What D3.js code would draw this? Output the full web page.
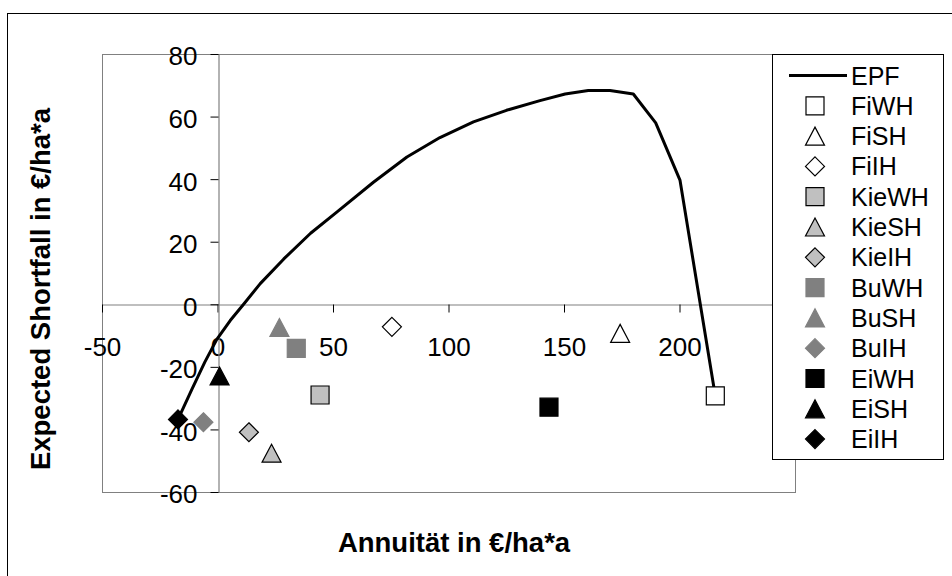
<!DOCTYPE html>
<html>
<head>
<meta charset="utf-8">
<script src="https://cdn.jsdelivr.net/npm/d3@7"></script>
<style>
  body { margin: 0; background: #fff; }
  text { font-family: "Liberation Sans", Arial, sans-serif; fill: #000; }
</style>
</head>
<body>
<svg id="chart" width="952" height="576"></svg>
<script>
// Axis ticks
const xTicks = [-50, 0, 50, 100, 150, 200];
const yTicks = [-60, -40, -20, 0, 20, 40, 60, 80];

// Efficient frontier (EPF)
const epfX = [-17.1, -11, -5.5, -0.3, 5.5, 11.3, 18.5, 28.7, 40.3, 51.9, 67.5, 82, 96.3, 110.8, 125.1, 139.6, 150.5, 160.5, 169.9, 180, 189.7, 200.2, 215.5];
const epfY = [-36.8, -27, -18.5, -11.2, -5.2, 0, 6.6, 14.5, 22.7, 29.6, 39, 47.1, 53.3, 58.3, 62, 65.1, 67.2, 68.3, 68.3, 67.2, 58, 39.7, -29.3];

// Single strategies
const pointNames = ["FiWH", "FiSH", "FiIH", "KieWH", "KieSH", "KieIH", "BuWH", "BuSH", "BuIH", "EiWH", "EiSH", "EiIH"];
const pointX = [215.5, 174.3, 75.5, 44.4, 23.4, 13.6, 34.1, 26.8, -6.1, 143.5, 0.9, -17.1];
const pointY = [-29.3, -9.3, -7.2, -29.0, -47.6, -40.9, -14.1, -7.4, -37.7, -32.9, -22.9, -36.8];

// Marker appearance per species (Fi, Kie, Bu, Ei) and harvest type (WH, SH, IH)
const speciesStyle = {
  Fi:  { fill: "#ffffff", stroke: "#000000" },
  Kie: { fill: "#c0c0c0", stroke: "#000000" },
  Bu:  { fill: "#808080", stroke: "#808080" },
  Ei:  { fill: "#000000", stroke: "#000000" }
};
function styleOf(name) {
  const sp = name.match(/^(Fi|Kie|Bu|Ei)/)[1];
  const shape = name.endsWith("WH") ? "square" : name.endsWith("SH") ? "triangle" : "diamond";
  return { ...speciesStyle[sp], shape };
}
function markerPath(shape) {
  const p = d3.path();
  if (shape === "square") {
    p.rect(-9, -9, 18, 18);
  } else if (shape === "triangle") {
    p.moveTo(0, -9); p.lineTo(9.5, 9); p.lineTo(-9.5, 9); p.closePath();
  } else {
    p.moveTo(0, -9.5); p.lineTo(9.5, 0); p.lineTo(0, 9.5); p.lineTo(-9.5, 0); p.closePath();
  }
  return p.toString();
}

const svg = d3.select("#chart");

// Chart frame
svg.append("rect")
  .attr("x", 7.5).attr("y", 13.5).attr("width", 980).attr("height", 600)
  .attr("fill", "#fff").attr("stroke", "#000").attr("stroke-width", 1);

const plot = { left: 102, right: 795, top: 54, bottom: 492 };
const x = d3.scaleLinear().domain([-50, 250]).range([plot.left, plot.right]);
const y = d3.scaleLinear().domain([-60, 80]).range([plot.bottom, plot.top]);

// Plot area border
svg.append("rect")
  .attr("x", plot.left + 0.5).attr("y", plot.top + 0.5)
  .attr("width", plot.right - plot.left).attr("height", plot.bottom - plot.top)
  .attr("fill", "none").attr("stroke", "#808080").attr("stroke-width", 1);

// Axes crossing at the origin
const plain = d => String(d);
const xAxis = d3.axisBottom(x).tickValues(xTicks).tickFormat(plain)
  .tickSizeInner(8).tickSizeOuter(0).tickPadding(25);
const yAxis = d3.axisLeft(y).tickValues(yTicks).tickFormat(plain)
  .tickSizeInner(8).tickSizeOuter(0).tickPadding(13);

const gx = svg.append("g").attr("transform", `translate(0,${Math.round(y(0)) + 0.5})`).call(xAxis);
const gy = svg.append("g").attr("transform", `translate(${Math.round(x(0)) + 0.5},0)`).call(yAxis);

[gx, gy].forEach(g => {
  g.select(".domain").attr("stroke", "#808080").attr("stroke-width", 1.2);
  g.selectAll(".tick line").attr("stroke", "#000").attr("stroke-width", 1);
  g.selectAll(".tick text").attr("font-size", 26).attr("fill", "#000")
    .attr("font-family", "'Liberation Sans', Arial, sans-serif");
});
gy.selectAll(".tick text").attr("dy", "0.42em");

// EPF line
const line = d3.line().x((d, i) => x(epfX[i])).y((d, i) => y(epfY[i]));
svg.append("path")
  .datum(epfX)
  .attr("d", line)
  .attr("fill", "none").attr("stroke", "#000").attr("stroke-width", 3)
  .attr("stroke-linejoin", "round");

// Strategy markers
svg.append("g").selectAll("path")
  .data(pointNames)
  .join("path")
  .attr("transform", (d, i) => `translate(${x(pointX[i])},${y(pointY[i])})`)
  .attr("d", d => markerPath(styleOf(d).shape))
  .attr("fill", d => styleOf(d).fill)
  .attr("stroke", d => styleOf(d).stroke)
  .attr("stroke-width", 1.2);

// Axis titles
svg.append("text")
  .attr("x", 454).attr("y", 552)
  .attr("text-anchor", "middle").attr("font-size", 27.5).attr("font-weight", "bold")
  .text("Annuität in €/ha*a");
svg.append("text")
  .attr("transform", "translate(50,289) rotate(-90)")
  .attr("text-anchor", "middle").attr("font-size", 27.5).attr("font-weight", "bold")
  .text("Expected Shortfall in €/ha*a");

// Legend
const legend = svg.append("g");
legend.append("rect")
  .attr("x", 772.5).attr("y", 54.5).attr("width", 171).attr("height", 405)
  .attr("fill", "#fff").attr("stroke", "#000").attr("stroke-width", 1);
const legendNames = ["EPF", ...pointNames];
const rowY = i => 75.5 + i * 30.3;
legendNames.forEach((name, i) => {
  const cy = rowY(i);
  if (name === "EPF") {
    legend.append("line").attr("x1", 789).attr("x2", 847).attr("y1", cy).attr("y2", cy)
      .attr("stroke", "#000").attr("stroke-width", 3);
  } else {
    const st = styleOf(name);
    legend.append("path")
      .attr("transform", `translate(815,${cy})`)
      .attr("d", markerPath(st.shape))
      .attr("fill", st.fill).attr("stroke", st.stroke).attr("stroke-width", 1.2);
  }
  legend.append("text")
    .attr("x", 851).attr("y", cy).attr("dy", "0.36em")
    .attr("font-size", 25)
    .text(name);
});
</script>
</body>
</html>
